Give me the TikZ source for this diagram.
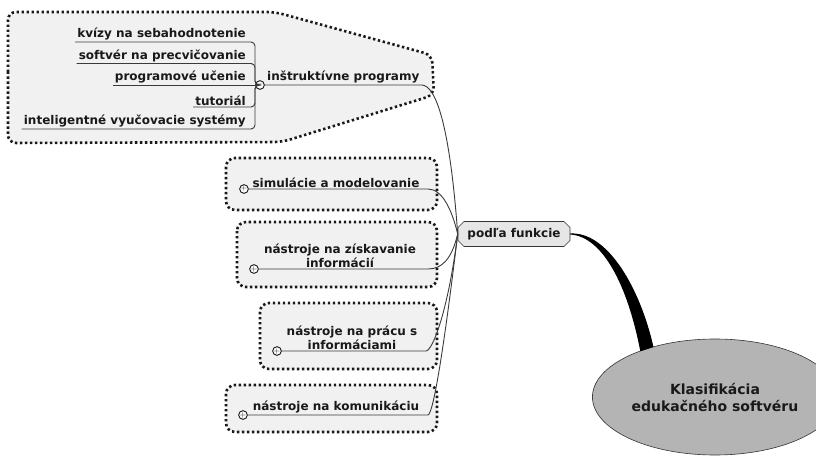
\documentclass[tikz,border=0pt]{standalone}
\usepackage{fontspec}
\setmainfont{DejaVu Sans}
\usetikzlibrary{shapes.geometric, shapes.misc}
\definecolor{balloonfill}{HTML}{F1F1F1}
\definecolor{rootfill}{HTML}{B4B4B4}
\definecolor{pffill}{HTML}{E6E6E6}
\definecolor{linegray}{HTML}{3A3A3A}

\begin{document}
\begin{tikzpicture}[x=1pt, y=-1pt,
	every node/.style={font=\fontsize{12}{14}\selectfont\bfseries, text=black!90},
	balloon/.style={draw=black!90, fill=balloonfill, line width=2.6pt, dash pattern=on 2.4pt off 2.6pt, rounded corners=9pt},
	item/.style={anchor=south east, inner xsep=2pt, inner ysep=1.5pt},
	topic/.style={anchor=south, align=center, inner ysep=1.5pt},
	uline/.style={draw=linegray, line width=0.9pt},
	toggle/.style={circle, draw=black, fill=white, line width=0.8pt, minimum size=8.5pt, inner sep=0pt, font=\fontsize{8}{8}\selectfont\bfseries},
]
	\useasboundingbox (0,0) rectangle (816,457);

	% baloniky
	\draw[balloon, rounded corners=8pt] (8,80) -- (8,12) -- (275,12) -- (432,55) -- (434,95) -- (282,142) -- (8,143) -- cycle;
	\draw[balloon] (226,158) rectangle (437,210);
	\draw[balloon] (237,222) rectangle (437,287);
	\draw[balloon] (260,303) rectangle (437,369);
	\draw[balloon] (226,385) rectangle (437,432);

	% stred
	\node[ellipse, draw=black!80, fill=rootfill, line width=0.6pt, minimum width=200pt, minimum height=116pt, align=center, font=\fontsize{14}{17}\selectfont\bfseries] (root) at (715,397) {Klasifikácia\\edukačného softvéru};
	\node[chamfered rectangle, chamfered rectangle sep=3pt, draw=black!80, fill=pffill, line width=0.6pt, minimum width=112pt, minimum height=25pt] (pf) at (514,234) {podľa funkcie};
	\filldraw[line width=1pt] (pf.east) .. controls (608,232) and (640,290) .. (root.141) -- (root.148) .. controls (628,285) and (603,236) .. (pf.east);

	% instruktivne programy
	\node[toggle] (instrtog) at (260,85) {$-$};
	\coordinate (ibr) at (255,85);
	\node[anchor=south west, inner xsep=2pt, inner ysep=1.5pt] (instr) at (265,85) {inštruktívne programy};
	\node[item] (kviz) at (248,42) {kvízy na sebahodnotenie};
	\node[item] (softver) at (248,63.5) {softvér na precvičovanie};
	\node[item] (progucenie) at (248,85) {programové učenie};
	\node[item] (tutorial) at (248,107) {tutoriál};
	\node[item] (its) at (248,129) {inteligentné vyučovacie systémy};
	\foreach \it in {kviz, softver, tutorial, its}
		\draw[uline, rounded corners=4pt] (\it.south west) -- (\it.south east) -| (ibr) -- (instrtog.west);
	\draw[uline] (progucenie.south west) -- (instrtog.west);
	\draw[uline] (instrtog.east) -- (instr.south east) .. controls +(14,0) and +(-8,-110) .. (pf.west);

	% ostatne vetvy
	\node[topic] (sim) at (336,189) {simulácie a modelovanie};
	\node[toggle] (simtog) at (244,189) {$+$};
	\coordinate (simend) at (428,189);
	\draw[uline] (simtog.east) -- (simend) .. controls +(14,0) and +(-6,-25) .. (pf.west);

	\node[topic] (zisk) at (340,269) {nástroje na získavanie\\informácií};
	\node[toggle] (zisktog) at (254,269) {$+$};
	\coordinate (ziskend) at (428,269);
	\draw[uline] (zisktog.east) -- (ziskend) .. controls +(14,0) and +(-6,25) .. (pf.west);

	\node[topic] (pracu) at (352,351) {nástroje na prácu s\\informáciami};
	\node[toggle] (pracutog) at (277,351) {$+$};
	\coordinate (pracuend) at (426,351);
	\draw[uline] (pracutog.east) -- (pracuend) .. controls +(6,0) and +(-10,80) .. (pf.west);

	\node[topic] (komun) at (336,415) {nástroje na komunikáciu};
	\node[toggle] (komuntog) at (243,415) {$+$};
	\coordinate (komunend) at (428,415);
	\draw[uline] (komuntog.east) -- (komunend) .. controls +(6,-2) and +(-12,100) .. (pf.west);
\end{tikzpicture}
\end{document}
